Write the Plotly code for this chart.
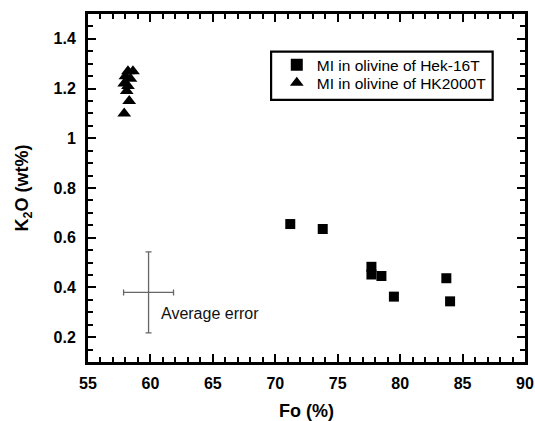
import plotly.graph_objects as go

# Data
hek_fo = [71.2, 73.8, 77.7, 77.7, 78.5, 79.5, 83.7, 84.0]
hek_k2o = [0.655, 0.635, 0.483, 0.452, 0.446, 0.363, 0.437, 0.344]

hk_fo = [58.2, 58.6, 58.0, 58.4, 57.9, 58.2, 58.1, 58.3, 57.9]
hk_k2o = [1.27, 1.27, 1.25, 1.24, 1.22, 1.21, 1.19, 1.15, 1.10]

err_fo = [59.85]
err_k2o = [0.38]
err_fo_size = [2.0]
err_k2o_size = [0.163]

x_ticks = [55, 60, 65, 70, 75, 80, 85, 90]
y_ticks = [0.2, 0.4, 0.6, 0.8, 1.0, 1.2, 1.4]
y_ticktext = ["0.2", "0.4", "0.6", "0.8", "1", "1.2", "1.4"]

FONT = "Liberation Sans, Arial, sans-serif"

fig = go.Figure()
fig.add_trace(go.Scatter(
    x=hek_fo, y=hek_k2o, mode="markers", name="MI in olivine of Hek-16T",
    marker=dict(symbol="square", size=10, color="black"), legend="legend",
))
fig.add_trace(go.Scatter(
    x=hk_fo, y=hk_k2o, mode="markers", name="MI in olivine of HK2000T",
    marker=dict(symbol="triangle-up", size=12, color="black"), legend="legend2",
))
fig.add_trace(go.Scatter(
    x=err_fo, y=err_k2o, mode="markers", showlegend=False,
    marker=dict(size=1, color="rgba(0,0,0,0)"),
    error_x=dict(type="data", array=err_fo_size, color="#666666", thickness=1.3, width=3),
    error_y=dict(type="data", array=err_k2o_size, color="#666666", thickness=1.3, width=3),
    hoverinfo="skip",
))

fig.add_annotation(
    x=60.7, y=0.297, xref="x", yref="y", text="Average error", showarrow=False,
    xanchor="left", yanchor="middle",
    font=dict(family=FONT, size=16, color="#111111"),
)

# Legend frame
fig.add_shape(
    type="rect", xref="paper", yref="paper",
    x0=0.419, x1=0.926, y0=0.753, y1=0.892,
    line=dict(color="black", width=2.2), fillcolor="rgba(0,0,0,0)",
)

axis_common = dict(
    showline=True, linewidth=3, linecolor="black", mirror="allticks",
    ticks="inside", ticklen=8, tickwidth=2, tickcolor="black",
    showgrid=False, zeroline=False, automargin=False, ticklabeloverflow="allow",
    tickfont=dict(family=FONT, size=16, color="black", weight="bold"),
)

fig.update_xaxes(
    **axis_common, range=[55, 90], tickvals=x_ticks,
    minor=dict(ticks="inside", ticklen=5, tickwidth=2, dtick=1, tick0=55, tickcolor="black"),
    title=dict(text="Fo (%)", font=dict(family=FONT, size=18, color="black", weight="bold"), standoff=14),
    ticklabelstandoff=5,
)
fig.update_yaxes(
    **axis_common, range=[0.1, 1.5], tickvals=y_ticks, ticktext=y_ticktext,
    minor=dict(ticks="inside", ticklen=5, tickwidth=2, dtick=0.05, tick0=0.1, tickcolor="black"),
    title=dict(text="K<sub>2</sub>O (wt%)", font=dict(family=FONT, size=18, color="black", weight="bold"), standoff=21),
    ticklabelstandoff=6,
)

legend_common = dict(
    xanchor="left", yanchor="middle",
    bgcolor="rgba(0,0,0,0)", borderwidth=0,
    font=dict(family=FONT, size=15.5, color="black"),
    itemsizing="constant", tracegroupgap=0,
)

fig.update_layout(
    width=535, height=421,
    margin=dict(l=87.5, r=9.5, t=14, b=59),
    plot_bgcolor="white", paper_bgcolor="white",
    showlegend=True,
    legend=dict(x=0.432, y=0.853, **legend_common),
    legend2=dict(x=0.432, y=0.801, **legend_common),
)

fig.write_html(
    "out.html",
    config={"displayModeBar": False},
    post_script="document.body.style.margin='0';document.body.style.overflow='hidden';",
)
